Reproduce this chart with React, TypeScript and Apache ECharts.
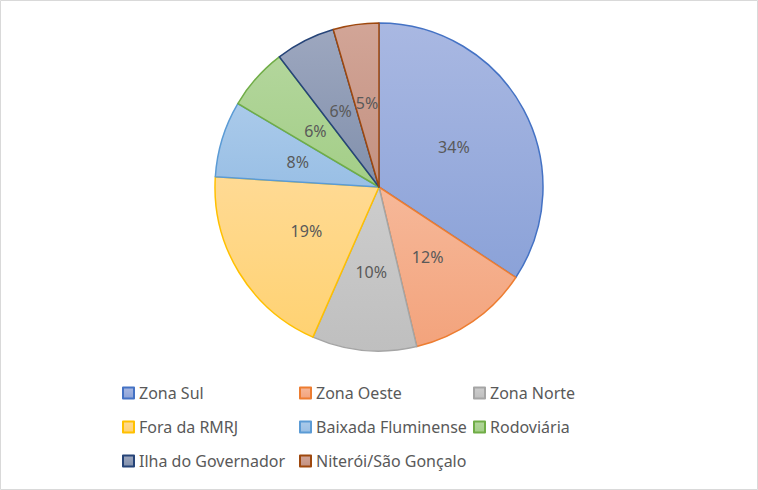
import React, { useEffect, useRef } from "react";
import * as echarts from "echarts";

const categories = [
  "Zona Sul",
  "Zona Oeste",
  "Zona Norte",
  "Fora da RMRJ",
  "Baixada Fluminense",
  "Rodoviária",
  "Ilha do Governador",
  "Niterói/São Gonçalo",
];
const values = [34.3, 12.0, 10.3, 19.4, 7.5, 6.1, 5.9, 4.5];
const fillTop = ["#a9b8e2", "#f6b899", "#cdcdcd", "#ffda94", "#aacaea", "#b3d69c", "#9da7bf", "#d2a597"];
const fillBottom = ["#8ba2d8", "#f3a37c", "#bfbfbf", "#ffd272", "#99bfe5", "#a3ce87", "#8190ac", "#c39181"];
const borders = ["#4472c4", "#ed7d31", "#a5a5a5", "#ffc000", "#5b9bd5", "#70ad47", "#264478", "#9e480e"];
const legendColumns = [
  ["Zona Sul", "Fora da RMRJ", "Ilha do Governador"],
  ["Zona Oeste", "Baixada Fluminense", "Niterói/São Gonçalo"],
  ["Zona Norte", "Rodoviária"],
];

const FONT = "Noto Sans";

export default function App() {
  const ref = useRef<HTMLDivElement>(null);
  useEffect(() => {
    document.body.style.margin = "0";
    const chart = echarts.init(ref.current!, undefined, { renderer: "svg" });
    const data = categories.map((name, i) => ({
      name,
      value: values[i],
      itemStyle: {
        color: new echarts.graphic.LinearGradient(0, 0, 0, 1, [
          { offset: 0, color: fillTop[i] },
          { offset: 1, color: fillBottom[i] },
        ]),
        borderColor: borders[i],
        borderWidth: 1.5,
      },
    }));
    const colLeft = [122, 299, 473];
    chart.setOption({
      animation: false,
      backgroundColor: "#ffffff",
      graphic: [
        {
          type: "rect",
          shape: { x: 0.5, y: 0.5, width: 757, height: 489 },
          style: { fill: "none", stroke: "#d9d9d9", lineWidth: 1 },
        },
      ],
      legend: legendColumns.map((col, c) => ({
        data: col,
        orient: "vertical",
        left: colLeft[c],
        top: 385,
        padding: 0,
        itemWidth: 11,
        itemHeight: 11,
        itemGap: 18,
        icon: "rect",
        selectedMode: false,
        textStyle: { color: "#595959", fontSize: 16, fontFamily: FONT },
      })),
      series: [
        {
          type: "pie",
          center: [379, 187],
          radius: 164,
          startAngle: 90,
          clockwise: true,
          data,
          label: {
            show: true,
            position: "inner",
            formatter: (p: any) => Math.round(p.percent) + "%",
            color: "#595959",
            fontSize: 16,
            fontFamily: FONT,
          },
          labelLine: { show: false },
          emphasis: { disabled: true },
        },
      ],
    });
    return () => chart.dispose();
  }, []);
  return <div ref={ref} style={{ width: 758, height: 490 }} />;
}
